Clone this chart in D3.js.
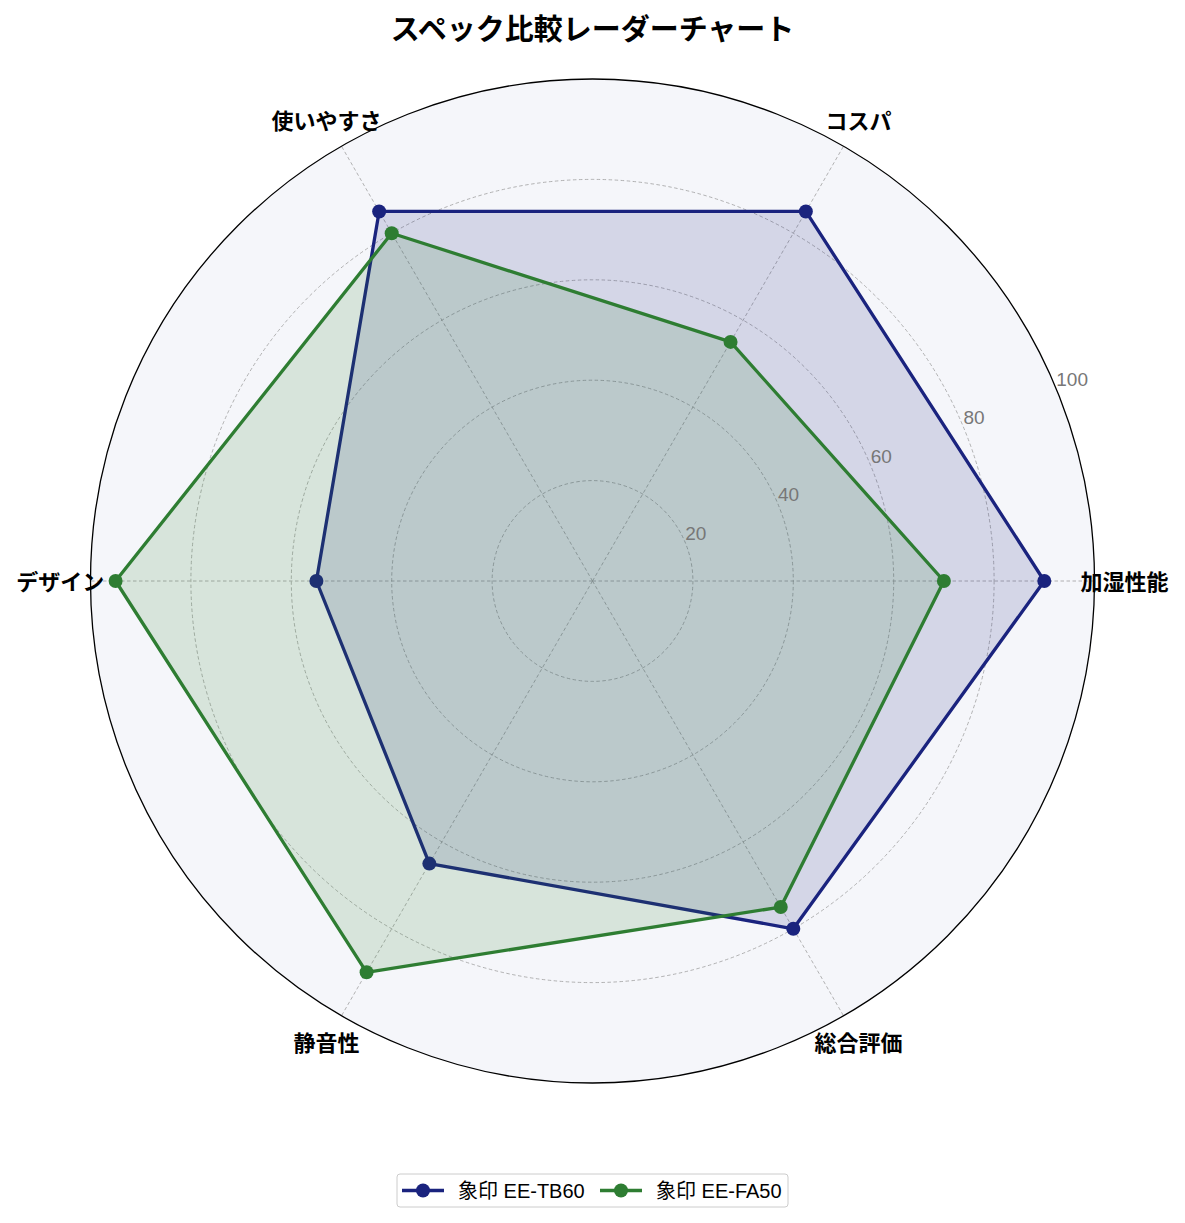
<!DOCTYPE html>
<html>
<head>
<meta charset="utf-8">
<script src="https://cdn.jsdelivr.net/npm/d3@7"></script>
<style>
  body { margin: 0; background: #fff; }
  svg { display: block; font-family: "Noto Sans CJK JP", "Noto Sans", sans-serif; }
  .latin { font-family: "Liberation Sans", "Noto Sans CJK JP", sans-serif; }
</style>
</head>
<body>
<svg id="radar" width="1185" height="1223"></svg>
<script>
const categories = ["加湿性能", "コスパ", "使いやすさ", "デザイン", "静音性", "総合評価"];
const seriesNames = ["象印 EE-TB60", "象印 EE-FA50"];
const tb60Values = [90, 85, 85, 55, 65, 80];
const fa50Values = [70, 55, 80, 95, 90, 75];
const radialTicks = [20, 40, 60, 80, 100];
const colors = ["#1a237e", "#2e7d32"];

const svg = d3.select("#radar");
const cx = 592.5, cy = 581, radius = 502;

const rScale = d3.scaleLinear().domain([0, 100]).range([0, radius]);
// angle in math convention (counter clockwise from 3 o'clock)
const aScale = d3.scaleLinear().domain([0, categories.length]).range([0, 2 * Math.PI]);

const px = (r, a) => cx + rScale(r) * Math.cos(a);
const py = (r, a) => cy - rScale(r) * Math.sin(a);

// title
svg.append("text")
  .attr("x", cx)
  .attr("y", 27)
  .attr("text-anchor", "middle")
  .attr("dominant-baseline", "central")
  .attr("font-size", 29)
  .attr("font-weight", "bold")
  .attr("fill", "#000")
  .text("スペック比較レーダーチャート");

const g = svg.append("g");

// polar background
g.append("circle")
  .attr("cx", cx).attr("cy", cy)
  .attr("r", rScale(100))
  .attr("fill", "#f5f6fa");

// grid rings
g.selectAll(".ring")
  .data(radialTicks.filter((t) => t < 100))
  .enter()
  .append("circle")
  .attr("class", "ring")
  .attr("cx", cx).attr("cy", cy)
  .attr("r", (d) => rScale(d))
  .attr("fill", "none")
  .attr("stroke", "#a0a0a0")
  .attr("stroke-width", 0.8)
  .attr("stroke-dasharray", "3.5,2.5");

// spokes
g.selectAll(".spoke")
  .data(categories)
  .enter()
  .append("line")
  .attr("class", "spoke")
  .attr("x1", cx).attr("y1", cy)
  .attr("x2", (d, i) => px(100, aScale(i)))
  .attr("y2", (d, i) => py(100, aScale(i)))
  .attr("stroke", "#a0a0a0")
  .attr("stroke-width", 0.8)
  .attr("stroke-dasharray", "3.5,2.5");

// series
const allSeries = [tb60Values, fa50Values];
const lineGen = d3.lineRadial()
  .angle((d, i) => Math.PI / 2 - aScale(i))
  .radius((d) => rScale(d))
  .curve(d3.curveLinearClosed);

allSeries.forEach((vals, s) => {
  const sg = g.append("g").attr("transform", `translate(${cx},${cy})`);
  sg.append("path")
    .attr("d", lineGen(vals))
    .attr("fill", colors[s])
    .attr("fill-opacity", 0.15)
    .attr("stroke", "none");
  sg.append("path")
    .attr("d", lineGen(vals))
    .attr("fill", "none")
    .attr("stroke", colors[s])
    .attr("stroke-width", 3.3)
    .attr("stroke-linejoin", "round");
  sg.selectAll("circle")
    .data(vals)
    .enter()
    .append("circle")
    .attr("cx", (d, i) => rScale(d) * Math.cos(aScale(i)))
    .attr("cy", (d, i) => -rScale(d) * Math.sin(aScale(i)))
    .attr("r", 7)
    .attr("fill", colors[s]);
});

// outer spine
g.append("circle")
  .attr("cx", cx).attr("cy", cy)
  .attr("r", rScale(100))
  .attr("fill", "none")
  .attr("stroke", "#000")
  .attr("stroke-width", 1.3);

// radial tick labels at 22.5 deg
const labelAngle = (22.5 * Math.PI) / 180;
g.selectAll(".rtick")
  .data(radialTicks)
  .enter()
  .append("text")
  .attr("class", "rtick latin")
  .attr("x", (d) => px(d, labelAngle))
  .attr("y", (d) => py(d, labelAngle) - 3)
  .attr("font-size", 19)
  .attr("fill", "#777")
  .text((d) => d);

// category labels
g.selectAll(".cat")
  .data(categories)
  .enter()
  .append("text")
  .attr("class", "cat")
  .attr("x", (d, i) => px(106, aScale(i)))
  .attr("y", (d, i) => py(106, aScale(i)) - 1)
  .attr("text-anchor", "middle")
  .attr("dominant-baseline", "central")
  .attr("font-size", 22)
  .attr("font-weight", "bold")
  .attr("fill", "#000")
  .text((d) => d);

// legend
const legend = svg.append("g").attr("transform", "translate(397,1174)");
legend.append("rect")
  .attr("width", 391).attr("height", 33)
  .attr("rx", 3)
  .attr("fill", "#fff")
  .attr("stroke", "#cccccc")
  .attr("stroke-width", 1);

const entryX = [5, 203];
seriesNames.forEach((name, s) => {
  const eg = legend.append("g").attr("transform", `translate(${entryX[s]},16.5)`);
  eg.append("line")
    .attr("x1", 0).attr("x2", 42)
    .attr("stroke", colors[s])
    .attr("stroke-width", 3.3);
  eg.append("circle")
    .attr("cx", 21).attr("r", 7)
    .attr("fill", colors[s]);
  eg.append("text")
    .attr("class", "latin")
    .attr("x", 56)
    .attr("dominant-baseline", "central")
    .attr("font-size", 20)
    .attr("fill", "#000")
    .text(name);
});
</script>
</body>
</html>
